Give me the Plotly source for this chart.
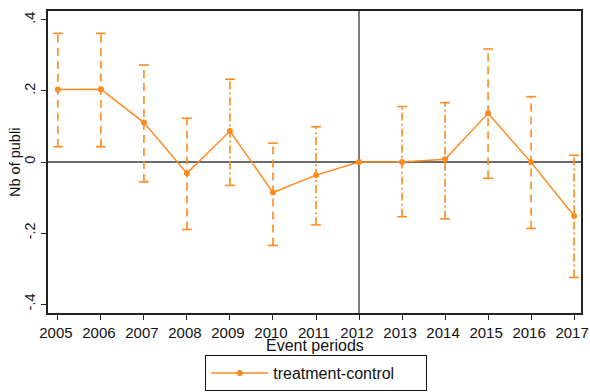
import plotly.graph_objects as go

# Event-study estimates (treatment - control) with confidence bounds
years = [2005, 2006, 2007, 2008, 2009, 2010, 2011, 2012, 2013, 2014, 2015, 2016, 2017]
coef = [0.204, 0.205, 0.111, -0.032, 0.087, -0.086, -0.037, 0.0, 0.0, 0.008, 0.137, -0.001, -0.152]
ci_hi = [0.362, 0.362, 0.273, 0.123, 0.233, 0.053, 0.099, None, 0.156, 0.167, 0.318, 0.184, 0.019]
ci_lo = [0.043, 0.043, -0.056, -0.19, -0.066, -0.235, -0.177, None, -0.154, -0.16, -0.046, -0.187, -0.325]

y_ticks = [-0.4, -0.2, 0.0, 0.2, 0.4]
y_tick_text = ["-.4", "-.2", "0", ".2", ".4"]

ORANGE = "#FF8A1E"
DASHED = "8px,5px"
DASHDOT = "8px,3px,2px,3px"
ci_dash = [DASHED, DASHED, DASHED, DASHED, DASHDOT, DASHED, DASHDOT, None,
           DASHDOT, DASHDOT, DASHED, DASHED, DASHDOT]

FONT = "Liberation Sans, Arial, sans-serif"

fig = go.Figure()

# vertical confidence intervals
for yr, lo, hi, dash in zip(years, ci_lo, ci_hi, ci_dash):
    if lo is None:
        continue
    fig.add_trace(go.Scatter(
        x=[yr, yr], y=[lo, hi], mode="lines",
        line=dict(color=ORANGE, width=1.6, dash=dash),
        showlegend=False, hoverinfo="skip"))

# interval caps
cap_x = [yr for yr, lo in zip(years, ci_lo) if lo is not None] * 2
cap_y = [v for v in ci_lo if v is not None] + [v for v in ci_hi if v is not None]
fig.add_trace(go.Scatter(
    x=cap_x, y=cap_y, mode="markers",
    marker=dict(symbol="line-ew", size=7, line=dict(color=ORANGE, width=1.6)),
    showlegend=False, hoverinfo="skip"))

# point estimates
fig.add_trace(go.Scatter(
    x=years, y=coef, mode="lines+markers", name="treatment-control",
    line=dict(color=ORANGE, width=1.5),
    marker=dict(color=ORANGE, size=6)))

# reference lines
fig.add_hline(y=0, line=dict(color="#3a3a3a", width=1.3), layer="below")
fig.add_vline(x=2012, line=dict(color="#3a3a3a", width=1.3), layer="below")

fig.update_layout(
    width=590, height=392,
    margin=dict(l=48, r=9, t=11, b=79, autoexpand=False),
    paper_bgcolor="white", plot_bgcolor="white",
    font=dict(family=FONT, size=15, color="#111111"),
    showlegend=True,
    legend=dict(
        xref="container", yref="container",
        x=0.536, xanchor="center", y=0.002, yanchor="bottom",
        orientation="h", bordercolor="#111111", borderwidth=1,
        font=dict(size=16), itemwidth=57, entrywidth=148,
    ),
    xaxis=dict(
        range=[2004.77, 2017.16], tickmode="array", tickvals=years,
        ticks="outside", ticklen=5, tickwidth=1.3, tickcolor="#222",
        showline=True, linecolor="#222", linewidth=1.5, mirror=True,
        showgrid=False, zeroline=False, tickfont=dict(size=15),
        ticklabelshift=-2, ticklabeloverflow="allow",
    ),
    yaxis=dict(
        range=[-0.425, 0.425], tickmode="array", tickvals=y_ticks,
        ticktext=y_tick_text, tickangle=-90,
        ticks="outside", ticklen=5, tickwidth=1.3, tickcolor="#222",
        showline=True, linecolor="#222", linewidth=1.5, mirror=True,
        showgrid=False, zeroline=False, tickfont=dict(size=14.5),
    ),
    annotations=[
        dict(text="Event periods", xref="paper", yref="paper",
             x=0.501, y=-0.107, xanchor="center", yanchor="middle",
             showarrow=False, font=dict(size=16)),
        dict(text="Nb of publi", xref="paper", yref="paper",
             x=-0.062, y=0.5, xanchor="center", yanchor="middle",
             textangle=-90, showarrow=False, font=dict(size=14.5)),
    ],
)

fig.write_html("out.html")
